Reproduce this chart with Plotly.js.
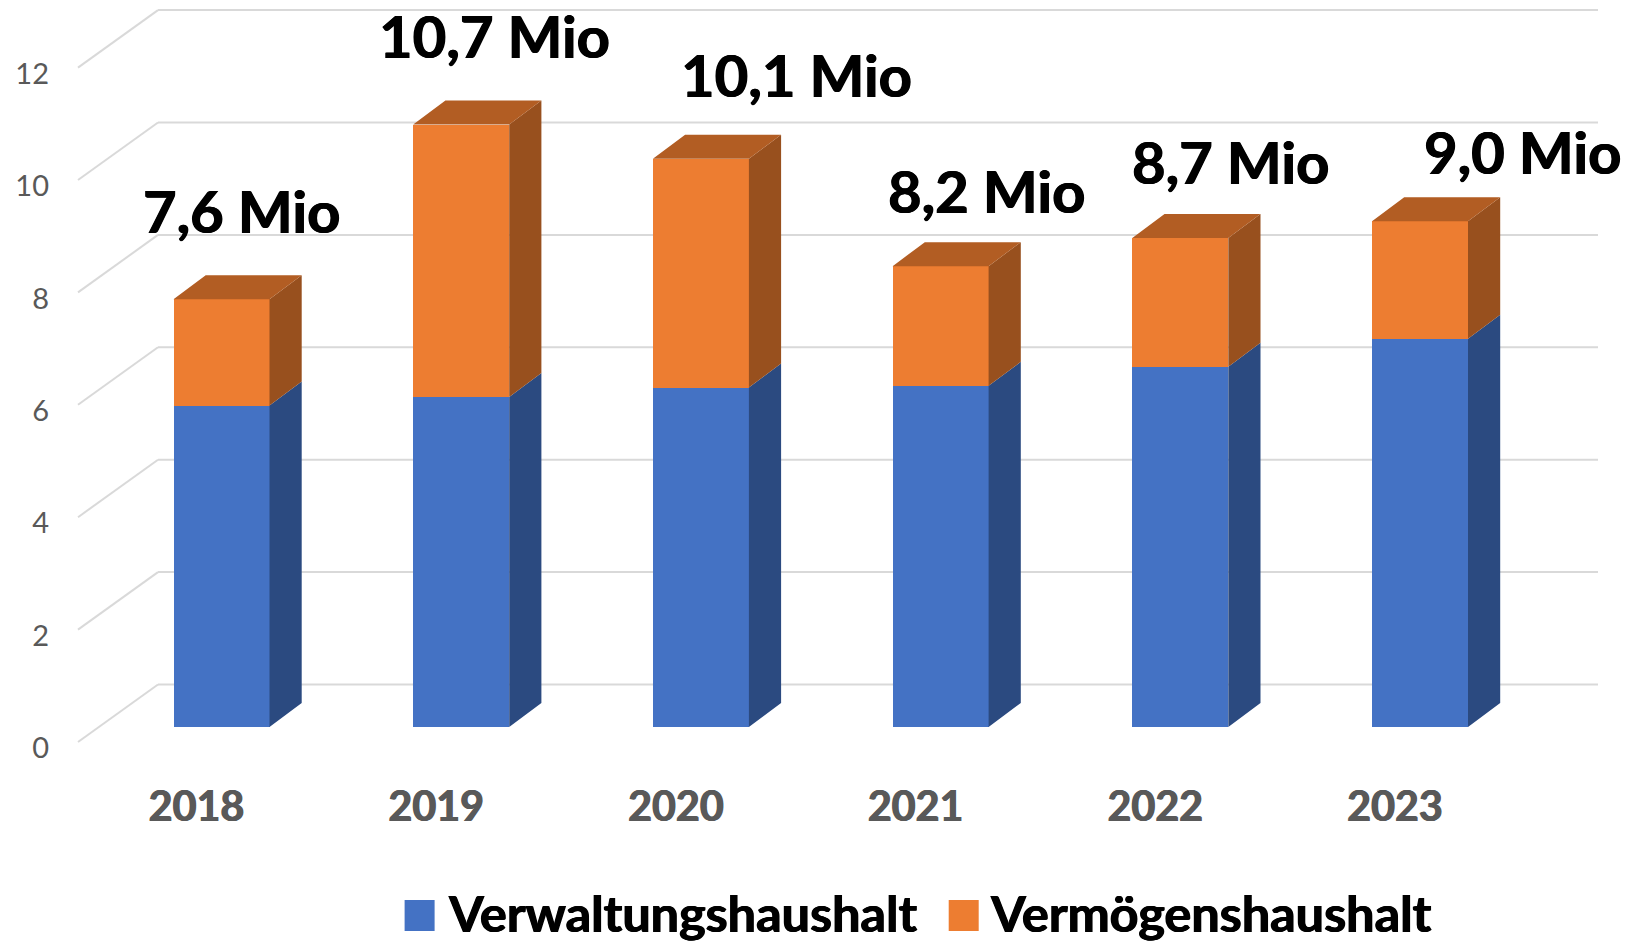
<!DOCTYPE html>
<html><head><meta charset="utf-8">
<script src="https://cdn.plot.ly/plotly-3.0.1.min.js"></script>
<style>html,body{margin:0;padding:0;background:#fff}#c{width:1631px;height:943px}</style>
</head><body><div id="c"></div>
<script>
// --- data ---
const years = ["2018","2019","2020","2021","2022","2023"];
const verwaltung = [5.72,5.87,6.04,6.07,6.41,6.91];
const vermoegen  = [1.89,4.85,4.07,2.13,2.29,2.09];
const totalLabels = ["7,6 Mio","10,7 Mio","10,1 Mio","8,2 Mio","8,7 Mio","9,0 Mio"];
const yTicks = [0,2,4,6,8,10,12];
const seriesNames = ["Verwaltungshaushalt","Vermögenshaushalt"];

// --- layout geometry (pixels in the 1631x943 page) ---
const W=1631,H=943,ml=50,pb=760;
const step=239.7,cx0=221.5,unit=56.2,base=727;
const X=p=>(p-cx0)/step, Y=p=>(base-p)/unit;
const barW=96/step, dxB=32.2/step, dyB=24/unit;
const idx=years.map((_,i)=>i);
const tot=idx.map(i=>verwaltung[i]+vermoegen[i]);
// label offsets from the bar top / bar centre (px)
const lblDx=[20,33,96,46,50,102], lblUp=[89,89,84,76,77,70];

const blueSide={x:[],y:[]},orSide={x:[],y:[]},top3={x:[],y:[]};
const poly=(o,xs,ys)=>{o.x.push(...xs,xs[0],null);o.y.push(...ys,ys[0],null)};
idx.forEach(i=>{
  const a=i-barW/2,b=i+barW/2,v=verwaltung[i],t=tot[i];
  poly(blueSide,[b,b+dxB,b+dxB,b],[0,dyB,v+dyB,v]);
  poly(orSide,[b,b+dxB,b+dxB,b],[v,v+dyB,t+dyB,t]);
  poly(top3,[a,a+dxB,b+dxB,b],[t,t+dyB,t+dyB,t]);
});
const face=(o,c)=>({type:'scatter',mode:'lines',x:o.x,y:o.y,fill:'toself',fillcolor:c,line:{width:0,color:c},hoverinfo:'skip',showlegend:false});

const traces=[
 {type:'bar',x:idx,y:verwaltung,width:barW,name:seriesNames[0],marker:{color:'#4472C4',line:{width:0}},showlegend:false},
 {type:'bar',x:idx,y:vermoegen,width:barW,name:seriesNames[1],marker:{color:'#ED7D31',line:{width:0}},showlegend:false},
 face(blueSide,'#2B4A80'),face(orSide,'#98501E'),face(top3,'#B25D23')
];

// grid: back wall + left wall, drawn beneath the bars
const gx0=X(158),gx1=X(1598),fx=X(78),backUp=(base-684.5)/unit,frontDn=(base-742)/unit;
const gridLine={color:'#D9D9D9',width:2};
const shapes=[];
yTicks.forEach(v=>{
  shapes.push({type:'line',layer:'below',xref:'x',yref:'y',x0:gx0,x1:gx1,y0:v+backUp,y1:v+backUp,line:gridLine});
  shapes.push({type:'line',layer:'below',xref:'x',yref:'y',x0:fx,x1:gx0,y0:v+frontDn,y1:v+backUp,line:gridLine});
});

const font='Lato, "Open Sans", sans-serif';
const heavy=c=>`0.6px 0 0 ${c}, -0.6px 0 0 ${c}`;
const annotations=idx.map(i=>({x:i,y:tot[i],xref:'x',yref:'y',text:totalLabels[i],showarrow:false,
  xanchor:'center',yanchor:'middle',xshift:lblDx[i],yshift:lblUp[i],
  font:{family:font,size:58,color:'#000',weight:700,shadow:heavy('#000')}}));

// legend (swatches + text)
const legendItems=[[404.6,446.3,'#4472C4',0],[948.7,988,'#ED7D31',1]];
const PX=p=>(p-ml)/(W-ml), PY=p=>(pb-p)/pb;
legendItems.forEach(([sx,tx,c,k])=>{
  shapes.push({type:'rect',xref:'paper',yref:'paper',x0:PX(sx),x1:PX(sx+30),y0:PY(931),y1:PY(900),fillcolor:c,line:{width:0}});
  annotations.push({xref:'paper',yref:'paper',x:PX(tx),y:PY(912),text:seriesNames[k],showarrow:false,xanchor:'left',yanchor:'middle',
    font:{family:font,size:50.3,color:'#000',weight:700,shadow:heavy('#000')}});
});

Plotly.newPlot('c',traces,{
  width:W,height:H,margin:{l:ml,r:0,t:0,b:H-pb,pad:0},
  paper_bgcolor:'#fff',plot_bgcolor:'rgba(0,0,0,0)',barmode:'stack',showlegend:false,
  xaxis:{type:'linear',range:[X(ml),X(W)],tickmode:'array',tickvals:idx,ticktext:years,showgrid:false,zeroline:false,showline:false,
    ticks:'',ticklabelshift:-25,ticklabelstandoff:19,tickfont:{family:font,size:41.2,color:'#595959',weight:700,shadow:heavy('#595959')}},
  yaxis:{type:'linear',range:[Y(pb),Y(0)],tickmode:'array',tickvals:yTicks,ticktext:yTicks.map(String),showgrid:false,zeroline:false,showline:false,
    ticks:'',ticklabelshift:21,tickfont:{family:font,size:29,color:'#595959'}},
  shapes,annotations
},{displayModeBar:false,staticPlot:true});
</script></body></html>
